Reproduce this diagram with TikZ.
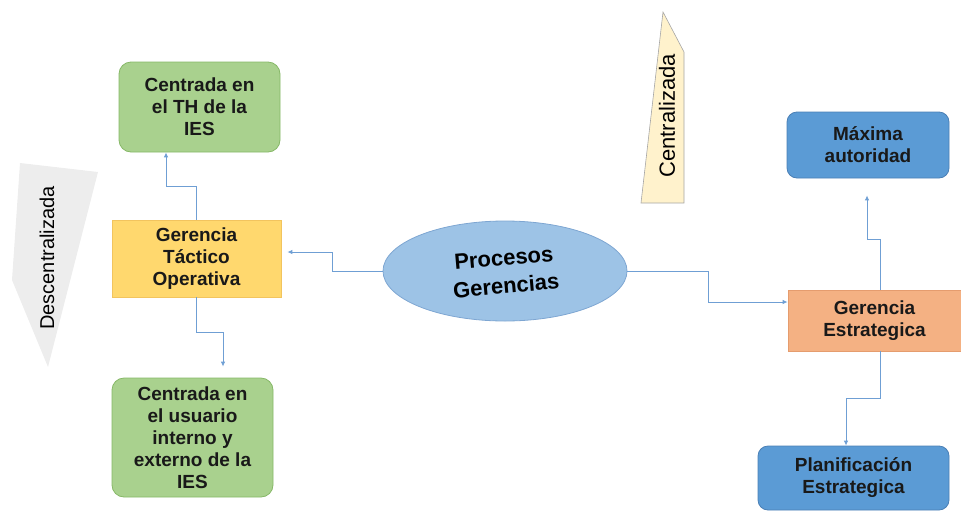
\documentclass[tikz,border=0pt]{standalone}
\usepackage{fontspec}
\setmainfont{Liberation Sans}
\usepackage{xcolor}
\usetikzlibrary{calc, arrows.meta, positioning, shapes}

\definecolor{grfill}{HTML}{A9D18E}
\definecolor{grline}{HTML}{86B867}
\definecolor{ylfill}{HTML}{FFD86E}
\definecolor{ylline}{HTML}{F2C45E}
\definecolor{orfill}{HTML}{F4B183}
\definecolor{orline}{HTML}{E59C6E}
\definecolor{blfill}{HTML}{5B9BD5}
\definecolor{blline}{HTML}{4A7FB5}
\definecolor{ovfill}{HTML}{9DC3E6}
\definecolor{ovline}{HTML}{7EA6D2}
\definecolor{lnblue}{HTML}{6F9FD4}
\definecolor{tagray}{HTML}{EDEDED}
\definecolor{tagyl}{HTML}{FFF2CC}

\begin{document}
\begin{tikzpicture}[x=1pt, y=-1pt, >={Latex[length=5pt, width=4.5pt]}, font=\bfseries\fontsize{19}{22}\selectfont]
	\tikzstyle{box} = [rectangle, align=center, inner sep=2pt, line width=0.8pt, text=black!90]
	\tikzstyle{grbox} = [box, draw=grline, fill=grfill, rounded corners=12pt, minimum width=161pt]
	\tikzstyle{ylbox} = [box, draw=ylline, fill=ylfill, minimum width=169pt, minimum height=77pt]
	\tikzstyle{orbox} = [box, draw=orline, fill=orfill, minimum width=173pt, minimum height=61pt]
	\tikzstyle{blbox} = [box, draw=blline, fill=blfill, rounded corners=10pt]
	\tikzstyle{oval} = [ellipse, draw=ovline, fill=ovfill, line width=0.8pt, minimum width=244pt, minimum height=100pt]
	\tikzstyle{invis} = [draw=none, inner sep=0pt, font=\mdseries]
	\tikzstyle{conn} = [draw=lnblue, line width=0.9pt, ->]

	\useasboundingbox (0,0) rectangle (961,512);

	% side tags
	\fill[tagray] (20,163) -- (98,172) -- (48,367) -- (12,280) -- cycle;
	\filldraw[fill=tagyl, draw=gray!70, line width=0.6pt] (663,12) -- (684,52) -- (684,203) -- (641,203) -- cycle;

	\node[grbox, minimum height=90pt]	at (199.5, 107)		(q0)	{Centrada en\\el TH de la\\IES};
	\node[ylbox]				at (196.5, 258.5)	(q1)	{Gerencia\\Táctico\\Operativa};
	\node[grbox, minimum height=119pt]	at (192.5, 437.5)	(q2)	{Centrada en\\el usuario\\interno y\\externo de la\\IES};
	\node[oval]				at (505, 271)		(q3)	{};
	\node[invis, rotate=5, align=center, font=\bfseries\fontsize{22}{28}\selectfont]
						at (505, 272)		(q4)	{Procesos\\Gerencias};
	\node[orbox]				at (874.5, 320.5)	(q5)	{Gerencia\\Estrategica};
	\node[blbox, minimum width=162pt, minimum height=66pt]	at (868, 145)	(q6)	{Máxima\\autoridad};
	\node[blbox, minimum width=191pt, minimum height=64pt]	at (853.5, 478)	(q7)	{Planificación\\Estrategica};
	\node[invis, rotate=90, font=\fontsize{20}{24}\selectfont]	at (47, 258)	(q8)	{Descentralizada};
	\node[invis, rotate=90, font=\fontsize{22}{26}\selectfont]	at (667, 116)	(q9)	{Centralizada};

	\draw[conn] (q1.north) -- ++(0,-33) -| ([xshift=-33.5pt]q0.south);
	\draw[conn, shorten >=11pt] (q1.south) -- ++(0,35) -| ([xshift=30.5pt]q2.north);
	\draw[conn, shorten >=6pt] (q3.west) -- ++(-50,0) |- ([yshift=6.5pt]q1.east);
	\draw[conn] (q3.east) -- ++(81,0) |- ([yshift=18.5pt]q5.west);
	\draw[conn, shorten >=17pt] ([xshift=5.5pt]q5.north) -- ++(0,-50) -| ([xshift=-1pt]q6.south);
	\draw[conn] ([xshift=5.5pt]q5.south) -- ++(0,47) -| ([xshift=-7.5pt]q7.north);
\end{tikzpicture}
\end{document}
